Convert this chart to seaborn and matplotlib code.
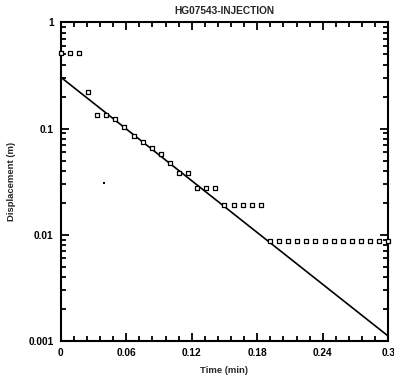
import matplotlib
matplotlib.use("Agg")
import matplotlib.pyplot as plt
import seaborn as sns
import pandas as pd
from matplotlib.ticker import FixedLocator, FixedFormatter, LogLocator, NullFormatter, MultipleLocator

# Data
time_min = [0.0, 0.0083, 0.0167, 0.025, 0.0333, 0.0417, 0.05, 0.0583, 0.0667,
            0.075, 0.0833, 0.0917, 0.1, 0.1083, 0.1167, 0.125, 0.1333, 0.1417,
            0.15, 0.1583, 0.1667, 0.175, 0.1833, 0.1917, 0.2, 0.2083, 0.2167,
            0.225, 0.2333, 0.2417, 0.25, 0.2583, 0.2667, 0.275, 0.2833, 0.2917, 0.3]
displacement_m = [0.51, 0.51, 0.51, 0.223, 0.134, 0.134, 0.124, 0.104, 0.086,
                  0.0754, 0.0662, 0.0577, 0.047, 0.0379, 0.0379, 0.0276, 0.0276, 0.0276,
                  0.019, 0.019, 0.019, 0.019, 0.019, 0.0088, 0.0088, 0.0088, 0.0088,
                  0.0088, 0.0088, 0.0088, 0.0088, 0.0088, 0.0088, 0.0088, 0.0088, 0.0088, 0.0088]
stray_time = [0.0397]
stray_disp = [0.0308]
fit_time = [0.0, 0.3]
fit_disp = [0.305, 0.00111]

xticks = [0, 0.06, 0.12, 0.18, 0.24, 0.3]
xticklabels = ["0", "0.06", "0.12", "0.18", "0.24", "0.3"]
yticks = [0.001, 0.01, 0.1, 1]
yticklabels = ["0.001", "0.01", "0.1", "1"]

sns.set_style("ticks")
plt.rcParams["font.family"] = ["Liberation Sans", "DejaVu Sans"]
plt.rcParams["font.weight"] = "bold"

fig = plt.figure(figsize=(3.94, 3.85), dpi=100)
ax = fig.add_axes([0.154, 0.1143, 0.8315, 0.8277])

pts = pd.DataFrame({"t": time_min, "d": displacement_m})
fit = pd.DataFrame({"t": fit_time, "d": fit_disp})
stray = pd.DataFrame({"t": stray_time, "d": stray_disp})

sns.lineplot(data=fit, x="t", y="d", ax=ax, color="black", linewidth=1.2)
sns.scatterplot(data=pts, x="t", y="d", ax=ax, marker="s", s=9,
                facecolor="white", edgecolor="black", linewidth=0.9, zorder=3, clip_on=False)
sns.scatterplot(data=stray, x="t", y="d", ax=ax, marker="s", s=3,
                color="black", linewidth=0, zorder=3)

ax.set_yscale("log")
ax.set_xlim(0, 0.3)
ax.set_ylim(0.001, 1)

ax.xaxis.set_major_locator(FixedLocator(xticks))
ax.xaxis.set_major_formatter(FixedFormatter(xticklabels))
ax.xaxis.set_minor_locator(MultipleLocator(0.012))
ax.yaxis.set_major_locator(FixedLocator(yticks))
ax.yaxis.set_major_formatter(FixedFormatter(yticklabels))
ax.yaxis.set_minor_locator(LogLocator(base=10, subs=range(2, 10)))
ax.yaxis.set_minor_formatter(NullFormatter())

ax.tick_params(which="both", direction="in", top=True, right=True, width=1.3, colors="black")
ax.tick_params(which="major", length=6, labelsize=7.3, pad=5)
ax.tick_params(which="minor", length=3.5)
for lab in ax.get_xticklabels() + ax.get_yticklabels():
    lab.set_fontweight("bold")
for sp in ax.spines.values():
    sp.set_linewidth(1.5)
    sp.set_color("black")

ax.set_xlabel("Time (min)", fontsize=6.8, fontweight="bold", labelpad=6)
ax.set_ylabel("Displacement (m)", fontsize=6.8, fontweight="bold", labelpad=9)
ax.set_title("HG07543-INJECTION", fontsize=7.3, fontweight="bold", pad=6)

fig.savefig("out.png", dpi=100)
